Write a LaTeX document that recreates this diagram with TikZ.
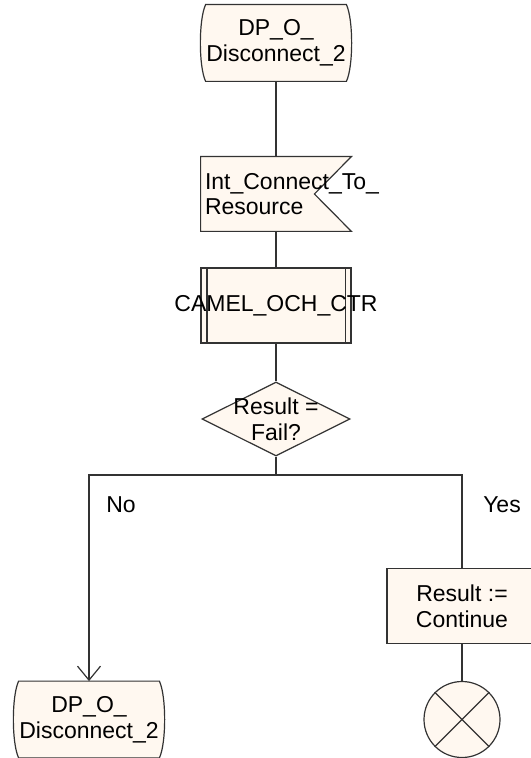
\documentclass[tikz,border=0pt]{standalone}
\usepackage{fontspec}
\setmainfont{Liberation Sans}
\usetikzlibrary{arrows.meta,calc,backgrounds,shapes.geometric}
\definecolor{sdlfill}{RGB}{255,248,240}
\newcommand{\sdlfont}{\fontsize{11.5}{12.8}\selectfont}
\tikzset{
  sdlline/.style={draw=black!80, line width=0.6pt},
  flow/.style={sdlline, -{Straight Barb[length=7pt, width=11.5pt]}},
  sdltext/.style={font=\sdlfont, align=center, inner sep=0pt},
  termnode/.style={sdltext, rectangle, minimum width=70pt, minimum height=38pt},
  signode/.style={rectangle, inner sep=0pt, minimum width=75pt, minimum height=37pt},
  procnode/.style={rectangle, sdlline, fill=sdlfill, inner sep=0pt, minimum width=75pt, minimum height=37.5pt},
  tasknode/.style={procnode, sdltext},
  decnode/.style={diamond, sdlline, fill=sdlfill, inner sep=0pt, minimum width=74pt, minimum height=37pt},
  stopnode/.style={circle, sdlline, fill=sdlfill, inner sep=0pt, minimum size=38pt},
  branchlbl/.style={font=\sdlfont, inner sep=0pt},
}
% frame of a start/terminal symbol, drawn behind its node
\newcommand{\termframe}[1]{%
  \begin{scope}[on background layer]
    \filldraw[sdlline, fill=sdlfill] (#1.north west) -- (#1.north east)
      .. controls ($(#1.north east)+(7,15)$) and ($(#1.south east)+(7,-15)$) .. (#1.south east)
      -- (#1.south west)
      .. controls ($(#1.south west)+(-7,-15)$) and ($(#1.north west)+(-7,15)$) .. (#1.north west) -- cycle;
  \end{scope}}
% frame of an input signal symbol
\newcommand{\sigframe}[1]{%
  \begin{scope}[on background layer]
    \filldraw[sdlline, fill=sdlfill] (#1.north west) -- (#1.north east)
      -- ($(#1.east)+(-37,0)$) -- (#1.south east) -- (#1.south west) -- cycle;
  \end{scope}}

\begin{document}
\begin{tikzpicture}[x=0.5pt, y=-0.5pt]
  \useasboundingbox (0,0) rectangle (530,758);
  \node[termnode] (start) at (276,43) {DP\_O\_\\Disconnect\_2};
  \termframe{start}
  \node[signode] (sig) at (276,194) {};
  \sigframe{sig}
  \node[sdltext, align=left, anchor=west] (sigtext) at ($(sig.west)+(4,0)$) {Int\_Connect\_To\_\\Resource};
  \node[procnode] (proc) at (276,305.5) {};
  \draw[sdlline] ($(proc.north west)+(6.5,0)$) -- ($(proc.south west)+(6.5,0)$)
                 ($(proc.north east)+(-6.5,0)$) -- ($(proc.south east)+(-6.5,0)$);
  \node[sdltext] (proctext) at (proc) {CAMEL\_OCH\_CTR};
  \node[decnode] (dec) at (276,419) {};
  \node[sdltext] (dectext) at (dec) {Result =\\Fail?};
  \coordinate (split) at (276,475);
  \node[branchlbl] (no) at (121,505) {No};
  \node[branchlbl] (yes) at (502,505) {Yes};
  \node[tasknode] (task) at (462,606) {Result :=\\Continue};
  \node[stopnode] (stop) at (462,719.5) {};
  \draw[sdlline] (stop.north west) -- (stop.south east) (stop.north east) -- (stop.south west);
  \node[termnode] (again) at (89,719.5) {DP\_O\_\\Disconnect\_2};
  \termframe{again}

  \draw[sdlline] (start) -- (sig);
  \draw[sdlline] (sig) -- (proc);
  \draw[sdlline] (proc) -- (dec);
  \draw[sdlline] (dec) -- (split);
  \draw[flow] (split) -| (again.north);
  \draw[sdlline] (split) -| (task.north);
  \draw[sdlline] (task) -- (stop);
\end{tikzpicture}
\end{document}
